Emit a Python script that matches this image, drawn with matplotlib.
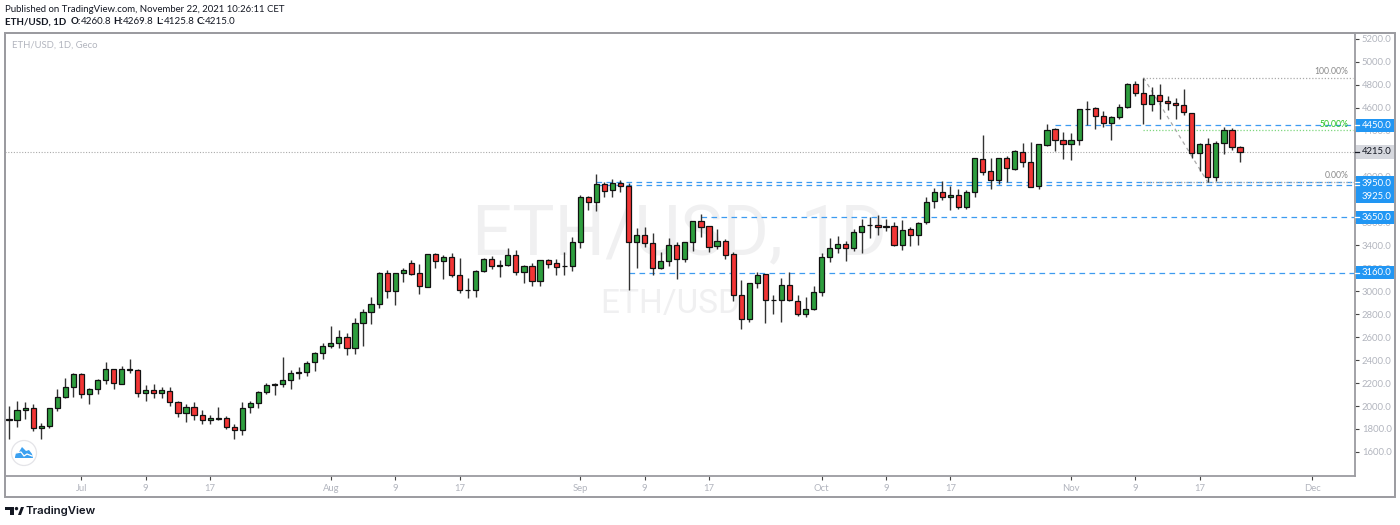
import matplotlib
matplotlib.use('Agg')
import matplotlib.pyplot as plt
import matplotlib.dates as mdates
from matplotlib.patches import Rectangle, Circle, Polygon
import numpy as np
import pandas as pd

# ETH/USD daily candles
start_day = '2021-06-22'

opens = [1879, 1879, 1963, 1983, 1806, 1823, 1980, 2082, 2163, 2277,
         2102, 2149, 2224, 2320, 2190, 2312, 2312, 2111, 2143, 2111,
         2134, 2033, 1937, 1989, 1919, 1876, 1899, 1893, 1815, 1788,
         1989, 2024, 2123, 2184, 2190, 2227, 2291, 2294, 2381, 2460,
         2524, 2553, 2602, 2504, 2722, 2820, 2887, 3157, 3006, 3157,
         3244, 3157, 3041, 3323, 3262, 3302, 3140, 3009, 3012, 3175,
         3282, 3224, 3233, 3314, 3166, 3221, 3093, 3270, 3244, 3218,
         3224, 3427, 3820, 3782, 3933, 3881, 3948, 3921, 3427, 3491,
         3419, 3201, 3262, 3401, 3282, 3427, 3610, 3567, 3393, 3436,
         3323, 2971, 2762, 3070, 3148, 2922, 2922, 3058, 2919, 2800,
         2849, 2992, 3302, 3381, 3413, 3381, 3515, 3576, 3579, 3558,
         3573, 3407, 3541, 3488, 3605, 3785, 3863, 3823, 3840, 3738,
         3869, 4151, 4046, 3968, 4160, 4070, 4218, 4125, 3916, 4276,
         4413, 4317, 4282, 4317, 4587, 4601, 4526, 4471, 4517, 4607,
         4805, 4726, 4630, 4709, 4657, 4639, 4622, 4552, 4203, 4282,
         3994, 4290, 4404, 4260.8]
highs = [2001, 2044, 2033, 2015, 1850, 1986, 2146, 2248, 2285, 2285,
         2155, 2233, 2387, 2320, 2349, 2410, 2320, 2184, 2192, 2169,
         2163, 2044, 2015, 2038, 1966, 1922, 1995, 1913, 1841, 2033,
         2044, 2131, 2198, 2198, 2425, 2314, 2338, 2390, 2468, 2547,
         2698, 2663, 2634, 2765, 2844, 2948, 3166, 3186, 3163, 3201,
         3273, 3238, 3325, 3332, 3314, 3337, 3288, 3119, 3183, 3294,
         3311, 3273, 3375, 3361, 3233, 3244, 3276, 3285, 3285, 3343,
         3471, 3837, 3831, 4023, 3956, 3977, 3971, 3942, 3555, 3561,
         3506, 3340, 3468, 3430, 3433, 3615, 3674, 3570, 3544, 3454,
         3343, 3099, 3076, 3172, 3154, 2968, 3114, 3166, 2965, 2951,
         3047, 3331, 3468, 3483, 3439, 3541, 3628, 3651, 3666, 3631,
         3602, 3622, 3558, 3608, 3820, 3898, 3962, 3919, 3889, 3881,
         4166, 4363, 4160, 4166, 4177, 4229, 4290, 4299, 4285, 4456,
         4427, 4389, 4378, 4590, 4660, 4607, 4569, 4529, 4633, 4814,
         4831, 4863, 4779, 4808, 4703, 4689, 4767, 4558, 4290, 4340,
         4311, 4430, 4421, 4269.8]
lows = [1710, 1820, 1884, 1786, 1713, 1806, 1957, 2067, 2082, 2067,
        2015, 2105, 2190, 2152, 2190, 2285, 2082, 2041, 2067, 2073,
        2004, 1908, 1858, 1879, 1841, 1844, 1879, 1797, 1713, 1751,
        1942, 1986, 2102, 2099, 2169, 2146, 2239, 2259, 2309, 2407,
        2509, 2504, 2446, 2451, 2524, 2713, 2858, 2945, 2884, 3082,
        3143, 2977, 3035, 3201, 3108, 3128, 2983, 2945, 2954, 3169,
        3198, 3122, 3224, 3140, 3076, 3050, 3050, 3207, 3146, 3143,
        3180, 3378, 3709, 3703, 3826, 3826, 3866, 3012, 3207, 3384,
        3143, 3195, 3224, 3108, 3259, 3352, 3477, 3346, 3366, 3279,
        2919, 2669, 2736, 3032, 2727, 2800, 2736, 2916, 2788, 2779,
        2835, 2962, 3256, 3337, 3265, 3355, 3331, 3462, 3491, 3529,
        3395, 3361, 3395, 3404, 3584, 3730, 3794, 3709, 3715, 3721,
        3820, 4012, 3889, 3933, 3956, 4061, 4084, 3907, 3889, 4267,
        4227, 4157, 4142, 4273, 4447, 4415, 4433, 4320, 4500, 4601,
        4706, 4462, 4572, 4500, 4581, 4503, 4535, 4160, 4052, 3950,
        3962, 4195, 4232, 4125.8]
closes = [1884, 1963, 1983, 1806, 1823, 1980, 2082, 2163, 2277, 2102,
          2149, 2224, 2320, 2198, 2320, 2320, 2111, 2143, 2111, 2137,
          2033, 1937, 1989, 1919, 1876, 1899, 1887, 1815, 1788, 1986,
          2024, 2120, 2181, 2190, 2224, 2291, 2294, 2378, 2460, 2524,
          2547, 2605, 2504, 2722, 2820, 2887, 3157, 3006, 3157, 3183,
          3154, 3044, 3323, 3262, 3302, 3143, 3009, 3012, 3177, 3282,
          3221, 3233, 3314, 3166, 3221, 3087, 3270, 3241, 3215, 3224,
          3427, 3820, 3782, 3933, 3878, 3948, 3921, 3427, 3491, 3419,
          3204, 3262, 3401, 3282, 3427, 3610, 3564, 3390, 3436, 3320,
          2971, 2762, 3070, 3146, 2928, 2928, 3058, 2922, 2800, 2846,
          2992, 3302, 3381, 3413, 3381, 3515, 3573, 3579, 3558, 3573,
          3407, 3532, 3488, 3599, 3782, 3863, 3823, 3840, 3738, 3869,
          4160, 4043, 3968, 4160, 4073, 4221, 4125, 3913, 4282, 4410,
          4317, 4282, 4317, 4587, 4593, 4529, 4471, 4517, 4604, 4805,
          4726, 4630, 4709, 4660, 4639, 4622, 4561, 4203, 4282, 3994,
          4290, 4404, 4256, 4215.0]

# 4200 and 3800 sit fully behind the blue and grey price boxes
price_ticks = [p for p in range(1600, 5400, 200) if p not in (4200, 3800)]
tick_days = ['2021-07-01', '2021-07-09', '2021-07-17', '2021-08-01', '2021-08-09',
             '2021-08-17', '2021-09-01', '2021-09-09', '2021-09-17', '2021-10-01',
             '2021-10-09', '2021-10-17', '2021-11-01', '2021-11-09', '2021-11-17',
             '2021-12-01']
tick_names = ['Jul', '9', '17', 'Aug', '9', '17', 'Sep', '9', '17', 'Oct',
              '9', '17', 'Nov', '9', '17', 'Dec']

# horizontal levels: price, first day
levels = [4450, 3950, 3925, 3650, 3160]
level_starts = ['2021-10-30', '2021-09-03', '2021-09-03', '2021-09-16', '2021-09-07']

fib_high = 4863
fib_low = 3950
fib_high_day = '2021-11-10'
fib_low_day = '2021-11-18'
last_price = 4215.0

W, H = 1400, 525
BLUE = '#2196f3'
FRAME = '#9b9ba0'
AXIS_TXT = '#b2b5be'
UI_FONT = 'Lato'
plt.rcParams['font.family'] = [UI_FONT, 'DejaVu Sans']


def num(day):
    return mdates.date2num(pd.Timestamp(day))


def y_to_px(ax, y):
    return H - ax.transData.transform((0, y))[1]


def draw_candles(ax):
    x = mdates.date2num(pd.date_range(start_day, periods=len(closes)))
    o, c = np.array(opens), np.array(closes)
    up = c >= o
    ax.vlines(x, lows, highs, color='#333333', lw=1.0, zorder=3)
    ax.bar(x[up], (c - o)[up], bottom=o[up], width=0.64, color='#2e9e3e',
           edgecolor='#111111', lw=0.9, zorder=4)
    ax.bar(x[~up], (o - c)[~up], bottom=c[~up], width=0.64, color='#f23535',
           edgecolor='#111111', lw=0.9, zorder=4)


def draw_levels(ax, x_end):
    for p, d in zip(levels, level_starts):
        ax.plot([num(d), x_end], [p, p], color='#3d9bf0', lw=0.9, ls=(0, (4.5, 3.5)), zorder=2)
    ax.axhline(last_price, color='#aaaaaa', lw=0.8, ls=(0, (1, 1.5)), zorder=1)

    fib_x = [num(fib_high_day), x_end - 0.3]
    fib_mid = (fib_high + fib_low) / 2
    ax.plot(fib_x, [fib_high, fib_high], color='#aaaaaa', lw=0.9, ls=(0, (1, 1.5)), zorder=2)
    ax.plot(fib_x, [fib_low + 6, fib_low + 6], color='#aaaaaa', lw=0.9, ls=(0, (1, 1.5)), zorder=2)
    ax.plot(fib_x, [fib_mid, fib_mid], color='#7fd67f', lw=0.9, ls=(0, (1, 1.5)), zorder=2)
    ax.plot([num(fib_high_day), num(fib_low_day)], [fib_high, fib_low], color='#aaaaaa',
            lw=0.9, ls=(0, (3, 3)), zorder=2)
    txt_x = x_end - 0.8
    ax.text(txt_x, fib_high + 12, '100.00%', color='#8a8a8a', fontsize=6.2, ha='right', va='bottom')
    ax.text(txt_x, fib_mid + 12, '50.00%', color='#22c322', fontsize=6.2, ha='right', va='bottom')
    ax.text(txt_x, fib_low + 18, '0.00%', color='#8a8a8a', fontsize=6.2, ha='right', va='bottom')


def write_run(fig, x, y, parts):
    # draws pieces of text one after the other, in pixels
    rend = fig.canvas.get_renderer()
    for s, weight, gap in parts:
        t = fig.text(x / W, 1 - y / H, s, fontsize=7.0, fontweight=weight, color='#131722',
                     family=UI_FONT, va='center')
        x = t.get_window_extent(rend).x1 + gap


def draw_overlay(fig, ax):
    ov = fig.add_axes([0, 0, 1, 1], zorder=10)
    ov.set_xlim(0, W)
    ov.set_ylim(H, 0)
    ov.axis('off')
    ov.patch.set_alpha(0)

    ov.add_patch(Rectangle((5, 33), 1390, 464, fill=False, ec=FRAME, lw=1.4))

    # price labels on the axis
    box_tops = [119, 176, 211, 266]
    box_bottoms = [132, 203, 224, 279]
    for t, b in zip(box_tops, box_bottoms):
        ov.add_patch(Rectangle((1355.5, t), 38.5, b - t, fc=BLUE, ec='none'))
    ov.add_patch(Rectangle((1355.5, 145), 38.5, 14, fc='#d6d8de', ec='none'))
    label_y = [125.5, 183, 196.5, 217.5, 272.5]
    for p, yy in zip(levels, label_y):
        ov.text(1362, yy, f'{p:.1f}', color='white', fontsize=6.8, va='center', family=UI_FONT)
        ov.plot([1355, 1359], [y_to_px(ax, p)] * 2, color='white', lw=0.9)
    ov.text(1362, 152, f'{last_price:.1f}', color='#131722', fontsize=6.8, va='center', family=UI_FONT)
    ov.plot([1355, 1359], [152, 152], color='#131722', lw=0.9)

    # small round button
    ov.add_patch(Circle((24, 453), 12.5, fc='white', ec='#e4e4e8', lw=0.9))
    ov.add_patch(Polygon([(15, 457), (16, 453), (19, 452), (22, 447), (26, 451), (29, 450),
                          (32, 454), (33, 458), (15, 458)], fc='#3aa0f0', ec='none'))
    ov.plot([16, 21, 24, 27, 32], [453, 452, 456, 454, 456], color='white', lw=0.9)

    # logo
    ov.add_patch(Polygon([(5, 507), (14, 507), (14, 515), (10, 515), (10, 510), (5, 510)], fc='#131722'))
    ov.add_patch(Circle((16.5, 508.6), 1.7, fc='#131722', ec='none'))
    ov.add_patch(Polygon([(18, 515), (21, 507), (24, 507), (21, 515)], fc='#131722'))
    ov.text(25.5, 511, 'TradingView', color='#131722', fontsize=8.2, fontweight='semibold',
            family='Inter', va='center')


fig = plt.figure(figsize=(W / 100, H / 100), dpi=100, facecolor='white')
ax = fig.add_axes([5 / W, 1 - 476 / H, 1350 / W, 443 / H])

px_per_day = 8.046
first = num(start_day)
x_left = first - 4 / px_per_day
x_right = x_left + 1350 / px_per_day
ax.set_xlim(x_left, x_right)
ax.set_ylim(1390, 5252)

ax.text(0.5, 0.542, 'ETH/USD, 1D', transform=ax.transAxes, fontsize=51, color='#f0f0f1',
        ha='center', va='center', family='Roboto', zorder=0)
ax.text(0.4926, 0.388, 'ETH/USD', transform=ax.transAxes, fontsize=24, color='#f0f0f1',
        ha='center', va='center', family='Roboto', zorder=0)

draw_levels(ax, x_right)
draw_candles(ax)

ax.yaxis.tick_right()
ax.set_yticks(price_ticks)
ax.set_yticklabels([f'{p:.1f}' for p in price_ticks], fontsize=6.8, color=AXIS_TXT, family=UI_FONT)
ax.tick_params(axis='y', length=3, width=0.8, color='#444444', pad=2)
ax.set_xticks([num(d) for d in tick_days])
ax.set_xticklabels(tick_names, fontsize=6.8, color=AXIS_TXT, family=UI_FONT)
ax.tick_params(axis='x', length=3, width=0.8, color='#444444', pad=3)
for s in ax.spines.values():
    s.set_color(FRAME)
    s.set_linewidth(1.3)

ax.text(7 / 1350, 1 - 12 / 443, 'ETH/USD, 1D, Geco', transform=ax.transAxes, fontsize=6.8,
        color='#b2b5be', family=UI_FONT, va='center')

fig.canvas.draw()
draw_overlay(fig, ax)

fig.text(5 / W, 1 - 9 / H, 'Published on TradingView.com, November 22, 2021 10:26:11 CET',
         fontsize=6.9, color='#131722', family=UI_FONT, va='center')
write_run(fig, 5, 22, [('ETH/USD, 1D', 'bold', 4), ('O:', 'bold', 0), (f'{opens[-1]:.1f}', 'normal', 2),
                       ('H:', 'bold', 0), (f'{highs[-1]:.1f}', 'normal', 2),
                       ('L:', 'bold', 0), (f'{lows[-1]:.1f}', 'normal', 2),
                       ('C:', 'bold', 0), (f'{closes[-1]:.1f}', 'normal', 0)])

fig.savefig('out.png', dpi=100, facecolor='white')
